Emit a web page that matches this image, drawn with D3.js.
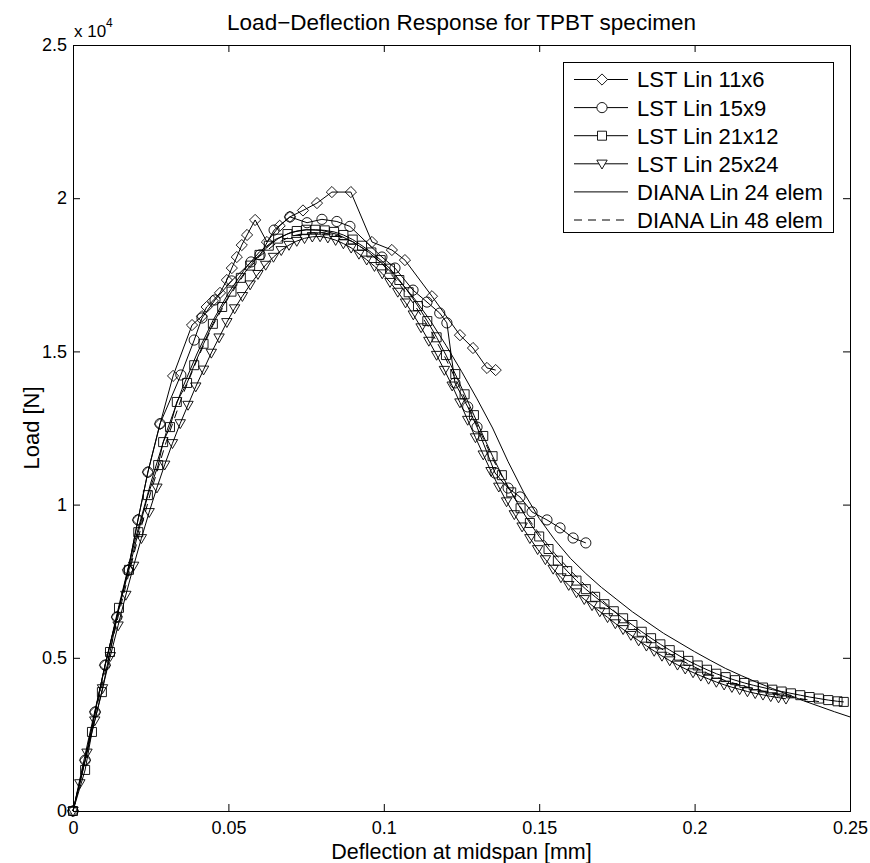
<!DOCTYPE html>
<html>
<head>
<meta charset="utf-8">
<script src="https://cdn.jsdelivr.net/npm/d3@7/dist/d3.min.js"></script>
<style>
  body { margin: 0; background: #fff; }
  svg { display: block; }
  text { font-family: "Liberation Sans", Arial, Helvetica, sans-serif; fill: #000; }
</style>
</head>
<body>
<div id="chart"></div>
<script>
// ---- data (deflection [mm], load [N]) ----
var lst11x6 = [
  [0,0],[0.0039,1660],[0.0071,3230],[0.0103,4760],[0.0141,6330],[0.0177,7870],[0.0209,9500],
  [0.0241,11060],[0.028,12630],[0.0322,14200],[0.0383,15860],[0.0415,16150],[0.043,16450],
  [0.045,16650],[0.0473,16910],[0.0495,17330],[0.0511,17720],[0.0527,18080],[0.0543,18470],
  [0.056,18800],[0.0586,19290],[0.0624,18570],[0.0665,19100],[0.0698,19390],[0.074,19600],
  [0.0785,19840],[0.0833,20200],[0.0894,20200],[0.0962,18570],[0.1026,18310],[0.1068,17980],
  [0.1155,16800],[0.1245,15530],[0.1287,15110],[0.1332,14460],[0.136,14390]
];
var lst15x9 = [
  [0,0],[0.0039,1660],[0.0071,3230],[0.0103,4760],[0.0141,6330],[0.0177,7850],[0.0209,9500],
  [0.0241,11060],[0.028,12640],[0.0347,14230],[0.039,15370],[0.0415,16090],[0.0457,16680],
  [0.051,17300],[0.0573,17920],[0.0602,18150],[0.0647,18960],[0.0698,19390],[0.0753,19200],
  [0.0801,19310],[0.0849,19240],[0.0891,19080],[0.0994,18080],[0.1036,17720],[0.1094,17000],
  [0.1139,16610],[0.118,16250],[0.1203,15930],[0.1229,13970],[0.127,13190],[0.13,12530],
  [0.1358,11030],[0.14,10540],[0.1438,10250],[0.1477,9760],[0.1525,9500],[0.1567,9240],
  [0.1609,8910],[0.165,8750]
];
var lst21x12 = [
  [0,0],[0.0039,1340],[0.0061,2580],[0.0093,3880],[0.0119,5190],[0.0148,6630],[0.018,7870],
  [0.021,9100],[0.0241,10310],[0.0274,11290],[0.029,12040],[0.0312,12530],[0.0334,13350],
  [0.0367,13970],[0.039,14550],[0.042,15250],[0.045,15900],[0.048,16450],[0.051,16950],
  [0.054,17400],[0.057,17800],[0.060,18150],[0.063,18450],[0.066,18680],[0.069,18830],
  [0.072,18930],[0.075,18970],[0.078,18970],[0.081,18950],[0.084,18900],[0.087,18800],
  [0.090,18650],[0.093,18450],[0.096,18230],[0.099,17980],[0.102,17700],[0.105,17330],
  [0.108,16930],[0.111,16480],[0.114,15990],[0.117,15460],[0.120,14880],[0.123,14260],
  [0.126,13600],[0.129,12920],[0.132,12240],[0.135,11580],[0.138,10960],[0.141,10400],
  [0.144,9880],[0.147,9400],[0.150,8960],[0.153,8550],[0.156,8170],[0.159,7830],[0.162,7520],
  [0.165,7240],[0.168,6990],[0.171,6750],[0.174,6520],[0.177,6290],[0.180,6070],[0.183,5850],
  [0.186,5640],[0.189,5440],[0.192,5250],[0.195,5070],[0.198,4900],[0.201,4750],[0.204,4610],
  [0.207,4480],[0.210,4370],[0.213,4270],[0.216,4180],[0.219,4100],[0.222,4030],[0.225,3960],
  [0.228,3900],[0.231,3840],[0.234,3780],[0.237,3720],[0.240,3670],[0.243,3620],[0.246,3580],
  [0.248,3560]
];
var lst25x24 = [
  [0,0],[0.0022,900],[0.0045,1900],[0.007,2950],[0.0095,4000],[0.012,5050],[0.0145,6050],
  [0.017,7050],[0.0195,8000],[0.022,8900],[0.0245,9750],[0.027,10550],[0.0295,11300],
  [0.032,12000],[0.0345,12650],[0.037,13250],[0.0395,13850],[0.042,14400],[0.0445,14950],
  [0.047,15450],[0.0495,15950],[0.052,16400],[0.0545,16800],[0.057,17180],[0.0595,17520],
  [0.062,17820],[0.0645,18080],[0.067,18300],[0.0695,18470],[0.072,18600],[0.0745,18690],
  [0.077,18740],[0.0795,18750],[0.082,18710],[0.0845,18630],[0.087,18520],[0.0895,18380],
  [0.092,18180],[0.0945,17990],[0.097,17780],[0.0995,17540],[0.102,17260],[0.1045,16940],
  [0.107,16590],[0.1095,16200],[0.112,15780],[0.1145,15340],[0.117,14880],[0.1195,14390],
  [0.122,13880],[0.1245,13330],[0.127,12760],[0.1295,12190],[0.132,11630],[0.1345,11090],
  [0.137,10580],[0.1395,10100],[0.142,9680],[0.1445,9280],[0.147,8900],[0.1495,8540],
  [0.152,8210],[0.1545,7900],[0.157,7620],[0.1595,7370],[0.162,7130],[0.1645,6910],
  [0.167,6710],[0.1695,6510],[0.172,6320],[0.1745,6120],[0.177,5930],[0.1795,5740],
  [0.182,5560],[0.1845,5390],[0.187,5220],[0.1895,5060],[0.192,4910],[0.1945,4770],
  [0.197,4640],[0.1995,4520],[0.202,4410],[0.2045,4310],[0.207,4210],[0.2095,4120],
  [0.212,4040],[0.2145,3970],[0.217,3900],[0.2195,3840],[0.222,3790],[0.2245,3740],
  [0.227,3700],[0.2294,3660]
];
var diana24 = [
  [0,0],[0.005,2350],[0.01,4600],[0.015,6800],[0.02,8850],[0.025,10700],[0.03,12350],
  [0.035,13750],[0.04,14950],[0.045,16000],[0.05,16900],[0.055,17650],[0.06,18250],
  [0.065,18650],[0.07,18880],[0.075,18970],[0.08,18950],[0.085,18820],[0.09,18580],
  [0.095,18250],[0.1,17820],[0.105,17300],[0.11,16700],[0.115,16000],[0.12,15200],
  [0.125,14350],[0.13,13450],[0.135,12500],[0.14,11400],[0.145,10400],[0.15,9550],
  [0.155,8850],[0.16,8250],[0.165,7750],[0.17,7300],[0.175,6900],[0.18,6500],[0.185,6150],
  [0.19,5800],[0.195,5500],[0.2,5200],[0.205,4920],[0.21,4650],[0.215,4420],[0.22,4200],
  [0.225,4000],[0.23,3800],[0.235,3600],[0.24,3420],[0.245,3240],[0.25,3070]
];
var diana48 = [
  [0,0],[0.005,2250],[0.01,4400],[0.015,6550],[0.02,8550],[0.025,10400],[0.03,12050],
  [0.035,13500],[0.04,14750],[0.045,15850],[0.05,16750],[0.055,17500],[0.06,18100],
  [0.065,18500],[0.07,18750],[0.075,18870],[0.08,18880],[0.085,18780],[0.09,18580],
  [0.095,18250],[0.1,17800],[0.105,17200],[0.11,16500],[0.115,15700],[0.12,14750],
  [0.125,13700],[0.13,12600],[0.135,11500],[0.14,10550],[0.145,9750],[0.15,9050],
  [0.155,8400],[0.16,7850],[0.165,7350],[0.17,6900],[0.175,6450],[0.18,6000],[0.185,5600],
  [0.19,5250],[0.195,4950],[0.2,4700],[0.205,4450],[0.21,4250],[0.215,4100],[0.22,3960],
  [0.225,3840],[0.23,3740],[0.235,3650],[0.24,3570]
];

var seriesNames = ['LST Lin 11x6', 'LST Lin 15x9', 'LST Lin 21x12', 'LST Lin 25x24', 'DIANA Lin 24 elem', 'DIANA Lin 48 elem'];
var seriesData = [lst11x6, lst15x9, lst21x12, lst25x24, diana24, diana48];
var seriesMarkers = ['diamond', 'circle', 'square', 'triangle', 'none', 'none'];
var seriesDash = [null, null, null, null, null, '8,6'];

var xTicks = [0, 0.05, 0.1, 0.15, 0.2, 0.25];
var xTickLabels = ['0', '0.05', '0.1', '0.15', '0.2', '0.25'];
var yTicks = [0, 5000, 10000, 15000, 20000, 25000];
var yTickLabels = ['0', '0.5', '1', '1.5', '2', '2.5'];

// ---- layout ----
var W = 870, H = 863;
var margin = { top: 45, right: 20, bottom: 52, left: 73 };
var iw = W - margin.left - margin.right;
var ih = H - margin.top - margin.bottom;

var svg = d3.select('#chart').append('svg').attr('width', W).attr('height', H);
var g = svg.append('g').attr('transform', 'translate(' + margin.left + ',' + margin.top + ')');

var x = d3.scaleLinear().domain([0, 0.25]).range([0, iw]);
var y = d3.scaleLinear().domain([0, 25000]).range([ih, 0]);

function markerPath(type) {
  if (type === 'diamond') return 'M0,-5.6L5.6,0L0,5.6L-5.6,0Z';
  if (type === 'circle') { var p = d3.path(); p.moveTo(5.1, 0); p.arc(0, 0, 5.1, 0, 2 * Math.PI); p.closePath(); return p.toString(); }
  if (type === 'square') return 'M-4.5,-4.5L4.5,-4.5L4.5,4.5L-4.5,4.5Z';
  if (type === 'triangle') return 'M-5.2,-3.7L5.2,-3.7L0,5.2Z';
  return null;
}

// Axes (ticks pointing inward, box on)
function styleAxis(sel) {
  sel.select('.domain').remove();
  sel.selectAll('.tick line').attr('stroke', '#000').attr('stroke-width', 1);
  sel.selectAll('.tick text').attr('font-size', '18px').attr('fill', '#000')
    .attr('font-family', '"Liberation Sans", Arial, sans-serif');
}

g.append('g').attr('transform', 'translate(0,' + ih + ')')
  .call(d3.axisBottom(x).tickValues(xTicks).tickFormat(function(d, i) { return xTickLabels[i]; })
    .tickSizeInner(-7).tickSizeOuter(0).tickPadding(10))
  .call(styleAxis);
g.append('g')
  .call(d3.axisTop(x).tickValues(xTicks).tickFormat('').tickSizeInner(-7).tickSizeOuter(0))
  .call(styleAxis);
g.append('g')
  .call(d3.axisLeft(y).tickValues(yTicks).tickFormat(function(d, i) { return yTickLabels[i]; })
    .tickSizeInner(-7).tickSizeOuter(0).tickPadding(6))
  .call(styleAxis);
g.append('g').attr('transform', 'translate(' + iw + ',0)')
  .call(d3.axisRight(y).tickValues(yTicks).tickFormat('').tickSizeInner(-7).tickSizeOuter(0))
  .call(styleAxis);

// Frame
g.append('rect').attr('x', 0).attr('y', 0).attr('width', iw).attr('height', ih)
  .attr('fill', 'none').attr('stroke', '#000').attr('stroke-width', 1).attr('shape-rendering', 'crispEdges');

// Series
var line = d3.line().x(function(d) { return x(d[0]); }).y(function(d) { return y(d[1]); });
seriesData.forEach(function(data, i) {
  g.append('path').datum(data).attr('d', line)
    .attr('fill', 'none').attr('stroke', '#000').attr('stroke-width', 1)
    .attr('stroke-dasharray', seriesDash[i]);
  var mp = markerPath(seriesMarkers[i]);
  if (mp) {
    g.append('g').selectAll('path').data(data).join('path')
      .attr('d', mp)
      .attr('transform', function(d) { return 'translate(' + x(d[0]) + ',' + y(d[1]) + ')'; })
      .attr('fill', 'none').attr('stroke', '#000').attr('stroke-width', 0.9);
  }
});

// Exponent label
svg.append('text').attr('x', 74).attr('y', 37).attr('font-size', '17px').text('x 10');
svg.append('text').attr('x', 106).attr('y', 27).attr('font-size', '12px').text('4');

// Title and axis labels
svg.append('text').attr('x', margin.left + iw / 2).attr('y', 30).attr('text-anchor', 'middle')
  .attr('font-size', '22.5px').text('Load\u2212Deflection Response for TPBT specimen');
svg.append('text').attr('x', margin.left + iw / 2).attr('y', 859).attr('text-anchor', 'middle')
  .attr('font-size', '21.5px').text('Deflection at midspan [mm]');
svg.append('text').attr('transform', 'rotate(-90)').attr('x', -(margin.top + ih / 2)).attr('y', 39)
  .attr('text-anchor', 'middle').attr('font-size', '22px').text('Load [N]');

// Legend
var lg = svg.append('g').attr('transform', 'translate(563,62)');
lg.append('rect').attr('width', 270).attr('height', 170).attr('fill', '#fff')
  .attr('stroke', '#000').attr('stroke-width', 1).attr('shape-rendering', 'crispEdges');
seriesNames.forEach(function(name, i) {
  var ry = 17.5 + i * 28.1;
  lg.append('line').attr('x1', 11).attr('x2', 65).attr('y1', ry).attr('y2', ry)
    .attr('stroke', '#000').attr('stroke-width', 1).attr('stroke-dasharray', seriesDash[i]);
  var mp = markerPath(seriesMarkers[i]);
  if (mp) {
    lg.append('path').attr('d', mp).attr('transform', 'translate(39,' + ry + ')')
      .attr('fill', '#fff').attr('stroke', '#000').attr('stroke-width', 0.9);
  }
  lg.append('text').attr('x', 74).attr('y', ry).attr('dy', '0.36em')
    .attr('font-size', '22px').text(name);
});
</script>
</body>
</html>
